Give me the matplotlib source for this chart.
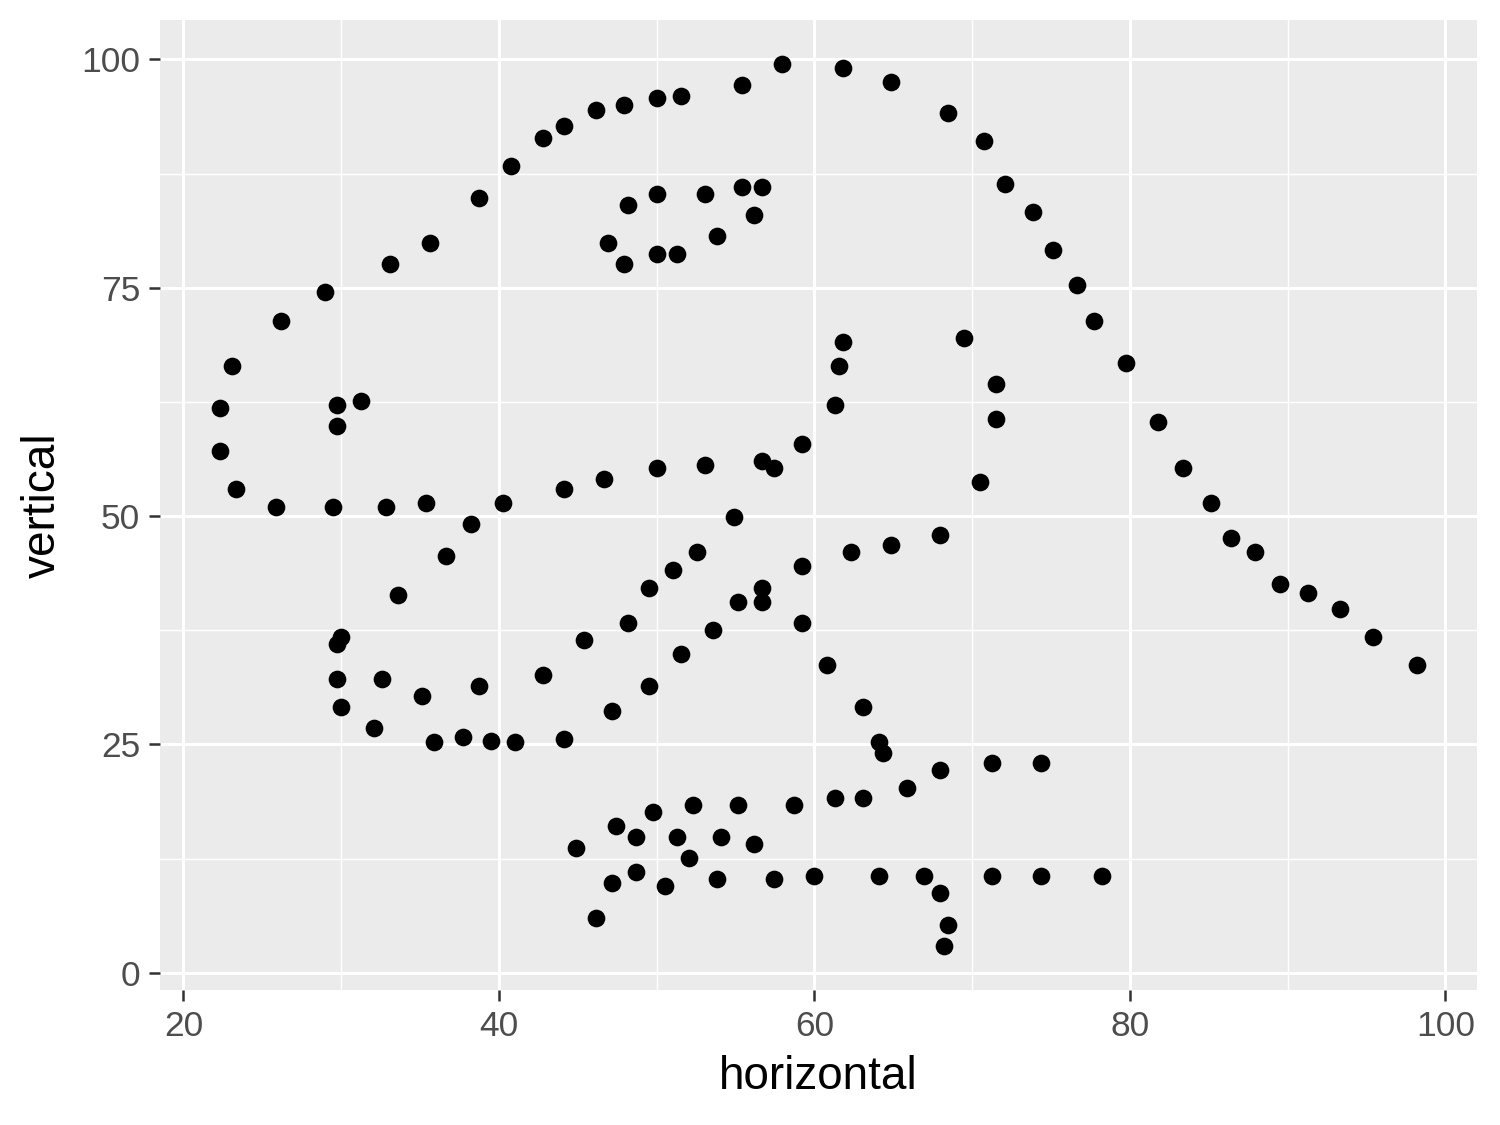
import matplotlib
matplotlib.use("Agg")
import matplotlib.pyplot as plt
import numpy as np

horizontal = [55.3846,51.5385,46.1538,42.8205,40.7692,38.7179,35.641,33.0769,28.9744,26.1538,23.0769,22.3077,22.3077,23.3333,25.8974,29.4872,32.8205,35.3846,40.2564,44.1026,46.6667,50,53.0769,56.6667,59.2308,61.2821,61.5385,61.7949,57.4359,54.8718,52.5641,48.2051,49.4872,51.0256,45.3846,42.8205,38.7179,35.1282,32.5641,30,33.5897,36.6667,38.2051,29.7436,29.7436,30,32.0513,35.8974,41.0256,44.1026,47.1795,49.4872,51.5385,53.5897,55.1282,56.6667,59.2308,62.3077,64.8718,67.9487,70.5128,71.5385,71.5385,69.4872,46.9231,48.2051,50,53.0769,55.3846,56.6667,56.1538,53.8462,51.2821,50,47.9487,29.7436,29.7436,31.2821,57.9487,61.7949,64.8718,68.4615,70.7692,72.0513,73.8462,75.1282,76.6667,77.6923,79.7436,81.7949,83.3333,85.1282,86.4103,87.9487,89.4872,93.3333,95.3846,98.2051,56.6667,59.2308,60.7692,63.0769,64.1026,64.359,74.359,71.2821,67.9487,65.8974,63.0769,61.2821,58.7179,55.1282,52.3077,49.7436,47.4359,44.8718,48.7179,51.2821,54.1026,56.1538,52.0513,48.7179,47.1795,46.1538,50.5128,53.8462,57.4359,60,64.1026,66.9231,71.2821,74.359,78.2051,67.9487,68.4615,68.2051,37.6923,39.4872,91.2821,50,47.9487,44.1026]
vertical = [97.1795,96.0256,94.4872,91.4103,88.3333,84.8718,79.8718,77.5641,74.4872,71.4103,66.4103,61.7949,57.1795,52.9487,51.0256,51.0256,51.0256,51.4103,51.4103,52.9487,54.1026,55.2564,55.641,56.0256,57.9487,62.1795,66.4103,69.1026,55.2564,49.8718,46.0256,38.3333,42.1795,44.1026,36.4103,32.5641,31.4103,30.2564,32.1795,36.7949,41.4103,45.641,49.1026,36.0256,32.1795,29.1026,26.7949,25.2564,25.2564,25.641,28.718,31.4103,34.8718,37.5641,40.641,42.1795,44.4872,46.0256,46.7949,47.9487,53.718,60.641,64.4872,69.4872,79.8718,84.1026,85.2564,85.2564,86.0256,86.0256,82.9487,80.641,78.718,78.718,77.5641,59.8718,62.1795,62.5641,99.4872,99.1026,97.5641,94.1026,91.0256,86.4103,83.3333,79.1026,75.2564,71.4103,66.7949,60.2564,55.2564,51.4103,47.5641,46.0256,42.5641,39.8718,36.7949,33.718,40.641,38.3333,33.718,29.1026,25.2564,24.1026,22.9487,22.9487,22.1795,20.2564,19.1026,19.1026,18.3333,18.3333,18.3333,17.5641,16.0256,13.7179,14.8718,14.8718,14.8718,14.1026,12.5641,11.0256,9.8718,6.0256,9.4872,10.2564,10.2564,10.641,10.641,10.641,10.641,10.641,10.641,8.718,5.2564,2.9487,25.7692,25.3846,41.5385,95.7692,95,92.6923]

x_ticks = [20, 40, 60, 80, 100]
y_ticks = [0, 25, 50, 75, 100]

plt.rcParams['font.family'] = ['Liberation Sans', 'DejaVu Sans']
fig = plt.figure(figsize=(5, 3.75), dpi=300)
ax = fig.add_axes([160/1500, 1 - 990/1125, (1477-160)/1500, (990-20)/1125])
ax.set_facecolor('#EBEBEB')
ax.scatter(horizontal, vertical, s=18, color='black', linewidths=0, zorder=3)

xr = max(horizontal) - min(horizontal)
yr = max(vertical) - min(vertical)
ax.set_xlim(min(horizontal) - 0.05*xr, max(horizontal) + 0.05*xr)
ax.set_ylim(min(vertical) - 0.05*yr, max(vertical) + 0.05*yr)

ax.set_xticks(x_ticks)
ax.set_yticks(y_ticks)
ax.set_xticks([30, 50, 70, 90], minor=True)
ax.set_yticks([12.5, 37.5, 62.5, 87.5], minor=True)
ax.grid(True, which='major', color='white', linewidth=1.07*0.75*0.9)
ax.grid(True, which='minor', color='white', linewidth=0.53*0.75*0.9)
ax.set_axisbelow(True)
for s in ax.spines.values():
    s.set_visible(False)
ax.tick_params(which='major', length=2.75, width=0.6, color='#333333', labelcolor='#4D4D4D', labelsize=8.5, pad=2)
ax.tick_params(which='minor', length=0)
ax.set_xlabel('horizontal', fontsize=11, color='black', labelpad=3)
ax.set_ylabel('vertical', fontsize=11, color='black', labelpad=4)

fig.savefig('out.png', dpi=300)
